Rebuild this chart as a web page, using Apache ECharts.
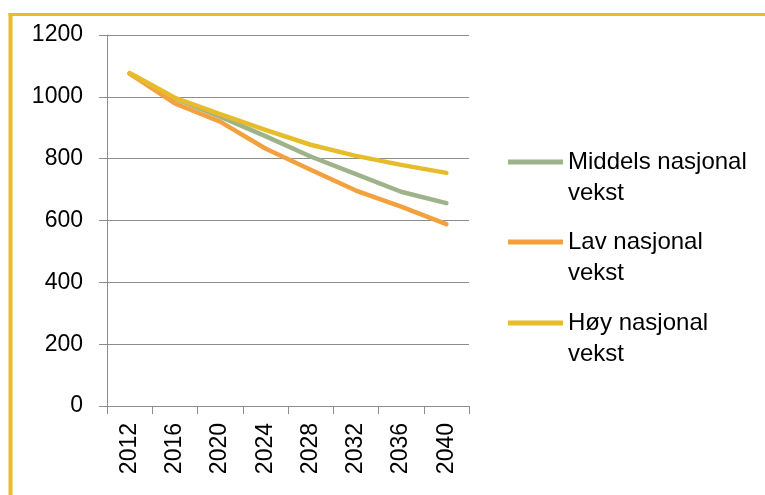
<!DOCTYPE html>
<html>
<head>
<meta charset="utf-8">
<script src="https://cdn.jsdelivr.net/npm/echarts@6/dist/echarts.min.js"></script>
<style>
html,body{margin:0;padding:0;background:#fff;}
#chart{width:765px;height:495px;}
</style>
</head>
<body>
<div id="chart"></div>
<script>
var years = ['2012','2016','2020','2024','2028','2032','2036','2040'];
var middels = [1075, 995, 936, 873, 807, 750, 693, 656];
var lav = [1075, 979, 920, 833, 764, 697, 645, 588];
var hoy = [1077, 997, 944, 893, 845, 809, 780, 754];
var yTicks = {min: 0, max: 1200, interval: 200};

var FONT = 'Liberation Sans';
var chart = echarts.init(document.getElementById('chart'), null, {renderer: 'canvas'});

function legendFor(name, top) {
  return {
    data: [name],
    left: 508,
    top: top,
    padding: 0,
    icon: 'rect',
    itemWidth: 55,
    itemHeight: 5,
    itemGap: 5,
    selectedMode: false,
    formatter: function (n) { return ' \n' + n.replace(' vekst', '\nvekst'); },
    textStyle: {
      fontFamily: FONT, fontSize: 24, color: '#000', lineHeight: 31
    }
  };
}

chart.setOption({
  animation: false,
  backgroundColor: '#fff',
  graphic: [
    {type: 'line', shape: {x1: 10.5, y1: 13, x2: 10.5, y2: 500}, style: {stroke: '#E8BC2C', lineWidth: 4}, silent: true},
    {type: 'line', shape: {x1: 8.5, y1: 14.5, x2: 770, y2: 14.5}, style: {stroke: '#E8BC2C', lineWidth: 3}, silent: true}
  ],
  grid: {left: 107, right: 296, top: 35, bottom: 89, containLabel: false},
  legend: [
    legendFor('Middels nasjonal vekst', 162 - 46.5),
    legendFor('Lav nasjonal vekst', 242 - 46.5),
    legendFor('Høy nasjonal vekst', 323 - 46.5)
  ],
  xAxis: {
    type: 'category',
    data: years,
    boundaryGap: true,
    axisLine: {show: true, lineStyle: {color: '#8c8c8c', width: 1}},
    axisTick: {show: true, length: 8, alignWithLabel: false, lineStyle: {color: '#8c8c8c'}},
    axisLabel: {rotate: 90, margin: 17, fontFamily: FONT, fontSize: 23, color: '#000', interval: 0},
    splitLine: {show: false}
  },
  yAxis: {
    type: 'value',
    min: yTicks.min, max: yTicks.max, interval: yTicks.interval,
    axisLine: {show: true, lineStyle: {color: '#8c8c8c', width: 1}},
    axisTick: {show: true, length: 8, inside: false, lineStyle: {color: '#8c8c8c'}},
    axisLabel: {margin: 24, fontFamily: FONT, fontSize: 23, color: '#000',
                formatter: function (v) { return String(v); }},
    splitLine: {show: true, lineStyle: {color: '#8c8c8c', width: 1}}
  },
  series: [
    {name: 'Middels nasjonal vekst', type: 'line', data: middels, showSymbol: false, symbol: 'none',
     color: '#9EB38A', lineStyle: {color: '#9EB38A', width: 4.5, cap: 'round', join: 'round'}},
    {name: 'Lav nasjonal vekst', type: 'line', data: lav, showSymbol: false, symbol: 'none',
     color: '#F3A03E', lineStyle: {color: '#F3A03E', width: 4.5, cap: 'round', join: 'round'}},
    {name: 'Høy nasjonal vekst', type: 'line', data: hoy, showSymbol: false, symbol: 'none',
     color: '#E6BC2A', lineStyle: {color: '#E6BC2A', width: 4.5, cap: 'round', join: 'round'}}
  ]
});
</script>
</body>
</html>
